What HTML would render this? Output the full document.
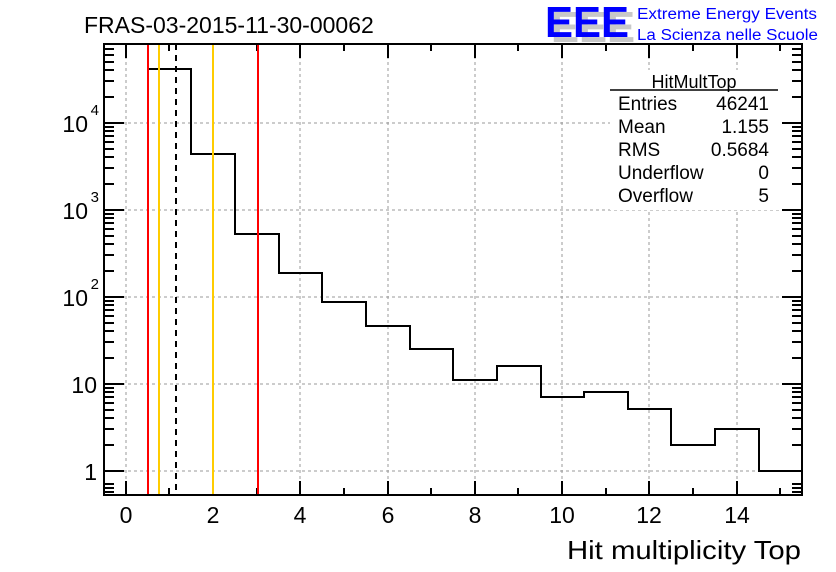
<!DOCTYPE html>
<html><head><meta charset="utf-8"><style>body{margin:0;background:#fff}svg{display:block}text{font-family:"Liberation Sans",sans-serif}</style></head><body>
<svg width="836" height="572" viewBox="0 0 836 572" xmlns="http://www.w3.org/2000/svg">
<rect width="836" height="572" fill="#fff"/>
<text x="84" y="33" font-size="23" fill="#000">FRAS-03-2015-11-30-00062</text>
<g font-size="44" font-weight="bold" font-family="Liberation Sans,sans-serif">
<text x="551" y="42" fill="#c8c8c8" textLength="84" lengthAdjust="spacingAndGlyphs">EEE</text>
<text x="545" y="37" fill="#0000ff" textLength="84" lengthAdjust="spacingAndGlyphs">EEE</text></g>
<text x="637" y="19" font-size="15.5" fill="#0000ff" textLength="180" lengthAdjust="spacingAndGlyphs">Extreme Energy Events</text>
<text x="637" y="40" font-size="15.5" fill="#0000ff" textLength="181" lengthAdjust="spacingAndGlyphs">La Scienza nelle Scuole</text>
<g stroke="#999" stroke-dasharray="3,3" stroke-width="1">
<line x1="126" y1="44" x2="126" y2="495"/><line x1="213" y1="44" x2="213" y2="495"/><line x1="300" y1="44" x2="300" y2="495"/><line x1="388" y1="44" x2="388" y2="495"/><line x1="475" y1="44" x2="475" y2="495"/><line x1="562" y1="44" x2="562" y2="495"/><line x1="649" y1="44" x2="649" y2="495"/><line x1="737" y1="44" x2="737" y2="495"/>
<line x1="104" y1="123" x2="802" y2="123"/><line x1="104" y1="210" x2="802" y2="210"/><line x1="104" y1="297" x2="802" y2="297"/><line x1="104" y1="384" x2="802" y2="384"/><line x1="104" y1="471" x2="802" y2="471"/>
</g>
<rect x="610" y="70" width="170" height="140" fill="#fff"/>
<text x="694" y="88" font-size="18" text-anchor="middle">HitMultTop</text>
<line x1="610" y1="90" x2="778" y2="90" stroke="#000" stroke-width="1.5"/>
<g font-size="19"><text x="618" y="110">Entries</text><text x="769" y="110" text-anchor="end">46241</text>
<text x="618" y="133">Mean</text><text x="769" y="133" text-anchor="end">1.155</text>
<text x="618" y="156">RMS</text><text x="769" y="156" text-anchor="end">0.5684</text>
<text x="618" y="179">Underflow</text><text x="769" y="179" text-anchor="end">0</text>
<text x="618" y="202">Overflow</text><text x="769" y="202" text-anchor="end">5</text></g>
<path fill="none" stroke="#000" stroke-width="2" d="M148,495 V69 H191 V154 H235 V234 H279 V273 H322 V302 H366 V326 H410 V349 H453 V380 H497 V366 H541 V397 H584 V392 H628 V409 H671 V445 H715 V429 H759 V471 H802"/>
<g stroke="#000" stroke-width="2">
<path d="M126,495v-14M213,495v-14M300,495v-14M388,495v-14M475,495v-14M562,495v-14M649,495v-14M737,495v-14M126,44v14M213,44v14M300,44v14M388,44v14M475,44v14M562,44v14M649,44v14M737,44v14"/>
<path d="M169,495v-7M257,495v-7M344,495v-7M431,495v-7M518,495v-7M606,495v-7M693,495v-7M780,495v-7M169,44v7M257,44v7M344,44v7M431,44v7M518,44v7M606,44v7M693,44v7M780,44v7"/>
<path d="M104,471h20M104,384h20M104,297h20M104,210h20M104,123h20M802,471h-20M802,384h-20M802,297h-20M802,210h-20M802,123h-20"/>
<path d="M104,492h10M104,488h10M104,484h10M104,445h10M104,429h10M104,418h10M104,410h10M104,403h10M104,397h10M104,392h10M104,388h10M104,358h10M104,342h10M104,331h10M104,323h10M104,316h10M104,310h10M104,305h10M104,301h10M104,271h10M104,255h10M104,244h10M104,236h10M104,229h10M104,223h10M104,218h10M104,214h10M104,184h10M104,168h10M104,157h10M104,149h10M104,142h10M104,136h10M104,131h10M104,127h10M104,97h10M104,81h10M104,70h10M104,62h10M104,55h10M104,49h10"/>
<path d="M802,492h-10M802,488h-10M802,484h-10M802,445h-10M802,429h-10M802,418h-10M802,410h-10M802,403h-10M802,397h-10M802,392h-10M802,388h-10M802,358h-10M802,342h-10M802,331h-10M802,323h-10M802,316h-10M802,310h-10M802,305h-10M802,301h-10M802,271h-10M802,255h-10M802,244h-10M802,236h-10M802,229h-10M802,223h-10M802,218h-10M802,214h-10M802,184h-10M802,168h-10M802,157h-10M802,149h-10M802,142h-10M802,136h-10M802,131h-10M802,127h-10M802,97h-10M802,81h-10M802,70h-10M802,62h-10M802,55h-10M802,49h-10"/>
</g>
<line x1="148" y1="44" x2="148" y2="495" stroke="#f00" stroke-width="2"/>
<line x1="258" y1="44" x2="258" y2="495" stroke="#f00" stroke-width="2"/>
<line x1="159" y1="44" x2="159" y2="495" stroke="#fc0" stroke-width="2"/>
<line x1="213" y1="44" x2="213" y2="495" stroke="#fc0" stroke-width="2"/>
<line x1="176" y1="44" x2="176" y2="495" stroke="#000" stroke-width="2" stroke-dasharray="6,5"/>
<rect x="104" y="44" width="698" height="451" fill="none" stroke="#000" stroke-width="2"/>
<g font-size="23" text-anchor="middle"><text x="126" y="523">0</text><text x="213" y="523">2</text><text x="300" y="523">4</text><text x="388" y="523">6</text><text x="475" y="523">8</text><text x="562" y="523">10</text><text x="649" y="523">12</text><text x="737" y="523">14</text></g>
<g font-size="23" text-anchor="end"><text x="97" y="480">1</text><text x="97" y="393">10</text>
<text x="88" y="306">10</text><text x="99" y="289" font-size="15">2</text>
<text x="88" y="219">10</text><text x="99" y="202" font-size="15">3</text>
<text x="88" y="132">10</text><text x="99" y="115" font-size="15">4</text></g>
<text x="801" y="559" font-size="26" text-anchor="end" textLength="234" lengthAdjust="spacingAndGlyphs">Hit multiplicity Top</text>
</svg>
</body></html>
